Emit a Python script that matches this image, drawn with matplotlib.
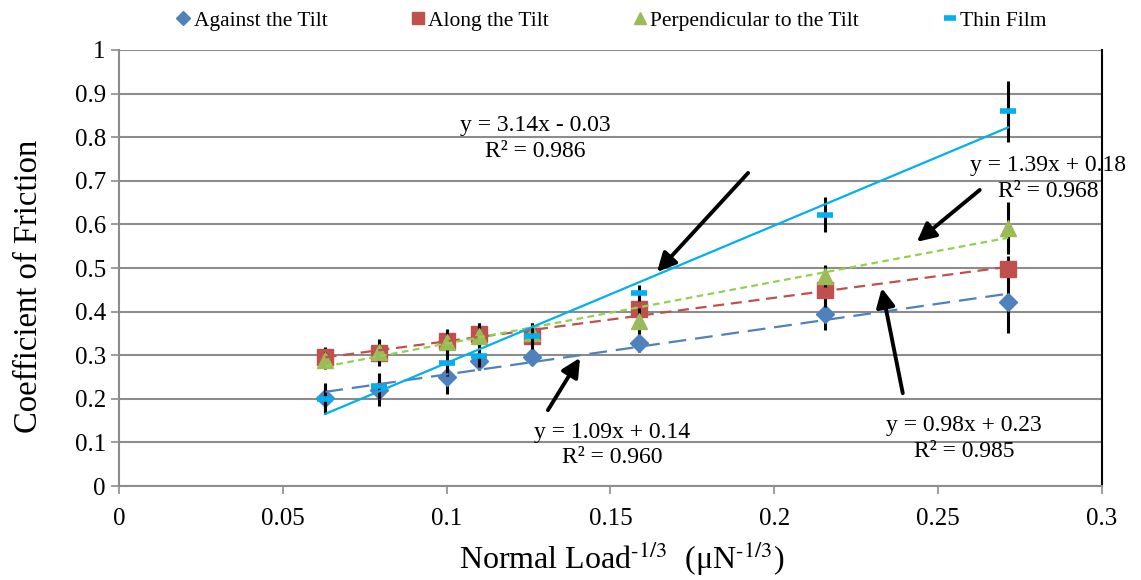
import matplotlib
matplotlib.use("Agg")
import matplotlib.pyplot as plt
import numpy as np
from matplotlib.ticker import FuncFormatter, MultipleLocator

plt.rcParams['font.family'] = ['Liberation Serif', 'DejaVu Serif']
plt.rcParams['mathtext.fontset'] = 'stix'

# ---- data ----
x = [0.063, 0.0794, 0.100, 0.110, 0.126, 0.1587, 0.2154, 0.2714]
against = [0.202, 0.220, 0.250, 0.287, 0.296, 0.327, 0.394, 0.422]
against_err = [0.035, 0.037, 0.040, 0.020, 0.015, 0.020, 0.035, 0.070]
along = [0.296, 0.305, 0.333, 0.348, 0.345, 0.405, 0.450, 0.497]
along_err = [0.022, 0.030, 0.027, 0.027, 0.030, 0.030, 0.040, 0.030]
perp = [0.288, 0.308, 0.330, 0.345, 0.350, 0.378, 0.482, 0.592]
perp_err = [0.020, 0.030, 0.028, 0.030, 0.025, 0.030, 0.025, 0.060]
thin = [0.200, 0.230, 0.282, 0.298, 0.344, 0.443, 0.622, 0.860]
thin_err = [0.035, 0.030, 0.030, 0.025, 0.020, 0.018, 0.040, 0.070]

labels = ["Against the Tilt", "Along the Tilt", "Perpendicular to the Tilt", "Thin Film"]
eq_texts = ["y = 1.09x + 0.14\nR² = 0.960", "y = 0.98x + 0.23\nR² = 0.985",
            "y = 1.39x + 0.18\nR² = 0.968", "y = 3.14x - 0.03\nR² = 0.986"]

fig = plt.figure(figsize=(11.41, 5.80), dpi=100)
ax = fig.add_axes([0.1043, 0.162, 0.8615, 0.7518])

series = [
    (against, against_err, 'D', '#4F81BD', 9.5, (0, (8, 4)), '#4F81BD'),
    (along, along_err, 's', '#C0504D', 11, (0, (5, 3)), '#C0504D'),
    (perp, perp_err, '^', '#9BBB59', 11, (0, (3, 2)), '#92D050'),
    (thin, thin_err, '_', '#00B0F0', 11, '-', '#00B0F0'),
]

xs = np.array(x)
handles = []
for i, (ys, err, mk, col, ms, ls, tcol) in enumerate(series):
    ys = np.array(ys)
    ax.errorbar(xs, ys, yerr=err, fmt='none', ecolor='black', elinewidth=2.2,
                capsize=0, zorder=3 + i)
    kw = dict(mew=4) if mk == '_' else dict(mec=col)
    h, = ax.plot(xs, ys, linestyle='none', marker=mk, color=col, ms=ms,
                 zorder=3.5 + i, label=labels[i], **kw)
    handles.append(h)
    m, b = np.polyfit(xs, ys, 1)
    xl = np.array([xs.min(), xs.max()])
    ax.plot(xl, m * xl + b, color=tcol, linestyle=ls, lw=1.6, zorder=7)

ax.set_xlim(0, 0.3)
ax.set_ylim(0, 1)
ax.xaxis.set_major_locator(MultipleLocator(0.05))
ax.yaxis.set_major_locator(MultipleLocator(0.1))
fmt = FuncFormatter(lambda v, p: f"{v:.2f}".rstrip('0').rstrip('.') if v != 0 else "0")
ax.xaxis.set_major_formatter(fmt)
ax.yaxis.set_major_formatter(fmt)
ax.grid(axis='y', color='#8C8C8C', lw=1.5)
ax.set_axisbelow(True)
for s in ['left', 'bottom']:
    ax.spines[s].set_color('#8C8C8C')
    ax.spines[s].set_linewidth(1.5)
ax.spines['top'].set_visible(False)
ax.spines['right'].set_color('black')
ax.spines['right'].set_linewidth(1.5)
ax.tick_params(axis='both', colors='#8C8C8C', labelcolor='black', labelsize=18,
               length=6, width=1.2)
ax.tick_params(axis='x', pad=10)

ax.set_ylabel("Coefficient of Friction", fontsize=23.5)
ax.yaxis.set_label_coords(-0.0763, 0.459)
ax.set_xlabel(r"Normal Load$^{\text{-1/3}}$  (μN$^{\text{-1/3}}$)", fontsize=23)
ax.xaxis.set_label_coords(0.512, -0.122)

arrow = dict(arrowstyle='-|>', lw=2.8, color='black', mutation_scale=28,
             shrinkA=0, shrinkB=0)
tkw = dict(ha='center', va='center', fontsize=17, linespacing=1.3, zorder=10)
# thin film
ax.text(0.127, 0.797, eq_texts[3], **tkw)
ax.annotate('', xy=(0.1642, 0.491), xytext=(0.192, 0.718), arrowprops=arrow, zorder=10)
# perpendicular
ax.text(0.2835, 0.706, eq_texts[2], **tkw)
ax.annotate('', xy=(0.2435, 0.560), xytext=(0.2627, 0.679), arrowprops=arrow, zorder=10)
# against
ax.text(0.1504, 0.094, eq_texts[0], **tkw)
ax.annotate('', xy=(0.1407, 0.294), xytext=(0.1309, 0.174), arrowprops=arrow, zorder=10)
# along
ax.text(0.258, 0.109, eq_texts[1], **tkw)
ax.annotate('', xy=(0.2328, 0.454), xytext=(0.2392, 0.213), arrowprops=arrow, zorder=10)

fig.legend(handles=handles, loc='upper center', bbox_to_anchor=(0.536, 1.015), ncol=4,
           frameon=False, fontsize=15.5, handlelength=0.6, handletextpad=0.2,
           columnspacing=3.9, markerscale=0.8)

fig.savefig("out.png", dpi=100)
